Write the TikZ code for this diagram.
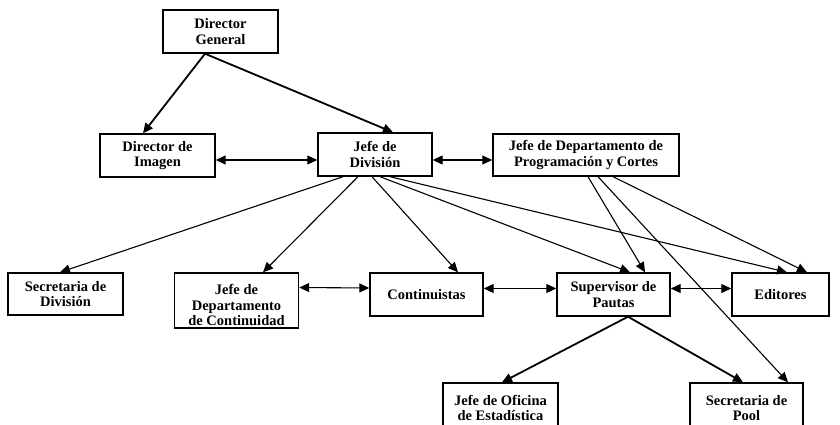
\documentclass[tikz,border=0pt]{standalone}
\usepackage{fontspec}
\setmainfont{Liberation Serif}
\usetikzlibrary{arrows.meta}
\begin{document}
\begin{tikzpicture}[x=1pt,y=-1pt,
  txt/.style={align=center,inner sep=0pt,
    font=\fontsize{14.5}{15.5}\selectfont\bfseries},
  box/.style={txt,draw,line width=1.4pt},
  tip/.style={-{Triangle[length=10pt,width=9pt]}},
  twotips/.style={{Triangle[length=10pt,width=9pt]}-{Triangle[length=10pt,width=9pt]}},
  link/.style={line width=1.1pt,tip},
  heavy/.style={line width=1.8pt,tip},
  both/.style={line width=1.1pt,twotips}]
\clip (0,0) rectangle (840,425);
\fill[white] (0,0) rectangle (840,425);

% top level
\node[box,minimum width=115pt,minimum height=43pt] (dg) at (220.5,31.5) {Director\\General};
% second level
\node[box,minimum width=115pt,minimum height=43pt] (di) at (157.5,155.5) {Director de\\Imagen};
\node[box,minimum width=114pt,minimum height=43pt] (jd) at (375,154.5) {Jefe de\\División};
\node[box,minimum width=186pt,minimum height=42pt] (jdp) at (586,155) {Jefe de Departamento de\\Programación y Cortes};
% third level
\node[box,minimum width=115pt,minimum height=42pt] (sd) at (65.5,294) {Secretaria de\\División};
\node[draw,line width=1.4pt,minimum width=124pt,minimum height=55pt] (jdc) at (236.5,300.5) {};
\node[txt] (jdct) at (236.5,305) {Jefe de\\Departamento\\de Continuidad};
\node[box,minimum width=113pt,minimum height=43pt] (con) at (426.5,294.5) {Continuistas};
\node[box,minimum width=113pt,minimum height=43pt] (sp) at (613.5,294.5) {Supervisor de\\Pautas};
\node[box,minimum width=97pt,minimum height=43pt] (ed) at (780.5,294.5) {Editores};
% fourth level
\node[box,minimum width=115pt,minimum height=50pt] (jo) at (500.5,408) {Jefe de Oficina\\de Estadística};
\node[box,minimum width=113pt,minimum height=50pt] (spool) at (746.5,408) {Secretaria de\\Pool};

% from Director General
\draw[heavy] ([xshift=-15.5pt]dg.south) -- ([xshift=-14.5pt]di.north);
\draw[heavy] ([xshift=-15.5pt]dg.south) -- ([xshift=18pt]jd.north);

% horizontal links
\draw[both] ([yshift=-4.5pt]di.east) -- ([yshift=-5.5pt]jd.west);
\draw[both] ([yshift=-5.5pt]jd.east) -- ([yshift=-5pt]jdp.west);
\draw[both] ([yshift=13pt]jdc.east) -- ([yshift=6.5pt]con.west);
\draw[both] ([yshift=6pt]con.east) -- ([yshift=6pt]sp.west);
\draw[both] ([yshift=6pt]sp.east) -- ([yshift=6pt]ed.west);

% from Jefe de División
\draw[link] ([xshift=-32pt]jd.south) -- ([xshift=-5.5pt]sd.north);
\draw[link] ([xshift=-17pt]jd.south) -- ([xshift=26.5pt]jdc.north);
\draw[link] ([xshift=-3pt]jd.south) -- ([xshift=31.5pt]con.north);
\draw[link] ([xshift=5pt]jd.south) -- ([xshift=16.5pt]sp.north);
\draw[link] ([xshift=15pt]jd.south) -- ([xshift=6.5pt]ed.north);

% from Jefe de Departamento de Programación y Cortes
\draw[link] ([xshift=2pt]jdp.south) -- ([xshift=31.5pt]sp.north);
\draw[link] ([xshift=12pt]jdp.south) -- ([xshift=41.5pt]spool.north);
\draw[link] ([xshift=27pt]jdp.south) -- ([xshift=26.5pt]ed.north);

% from Supervisor de Pautas
\draw[heavy] ([xshift=14.5pt]sp.south) -- ([xshift=1.5pt]jo.north);
\draw[heavy] ([xshift=14.5pt]sp.south) -- ([xshift=-3.5pt]spool.north);
\end{tikzpicture}
\end{document}
